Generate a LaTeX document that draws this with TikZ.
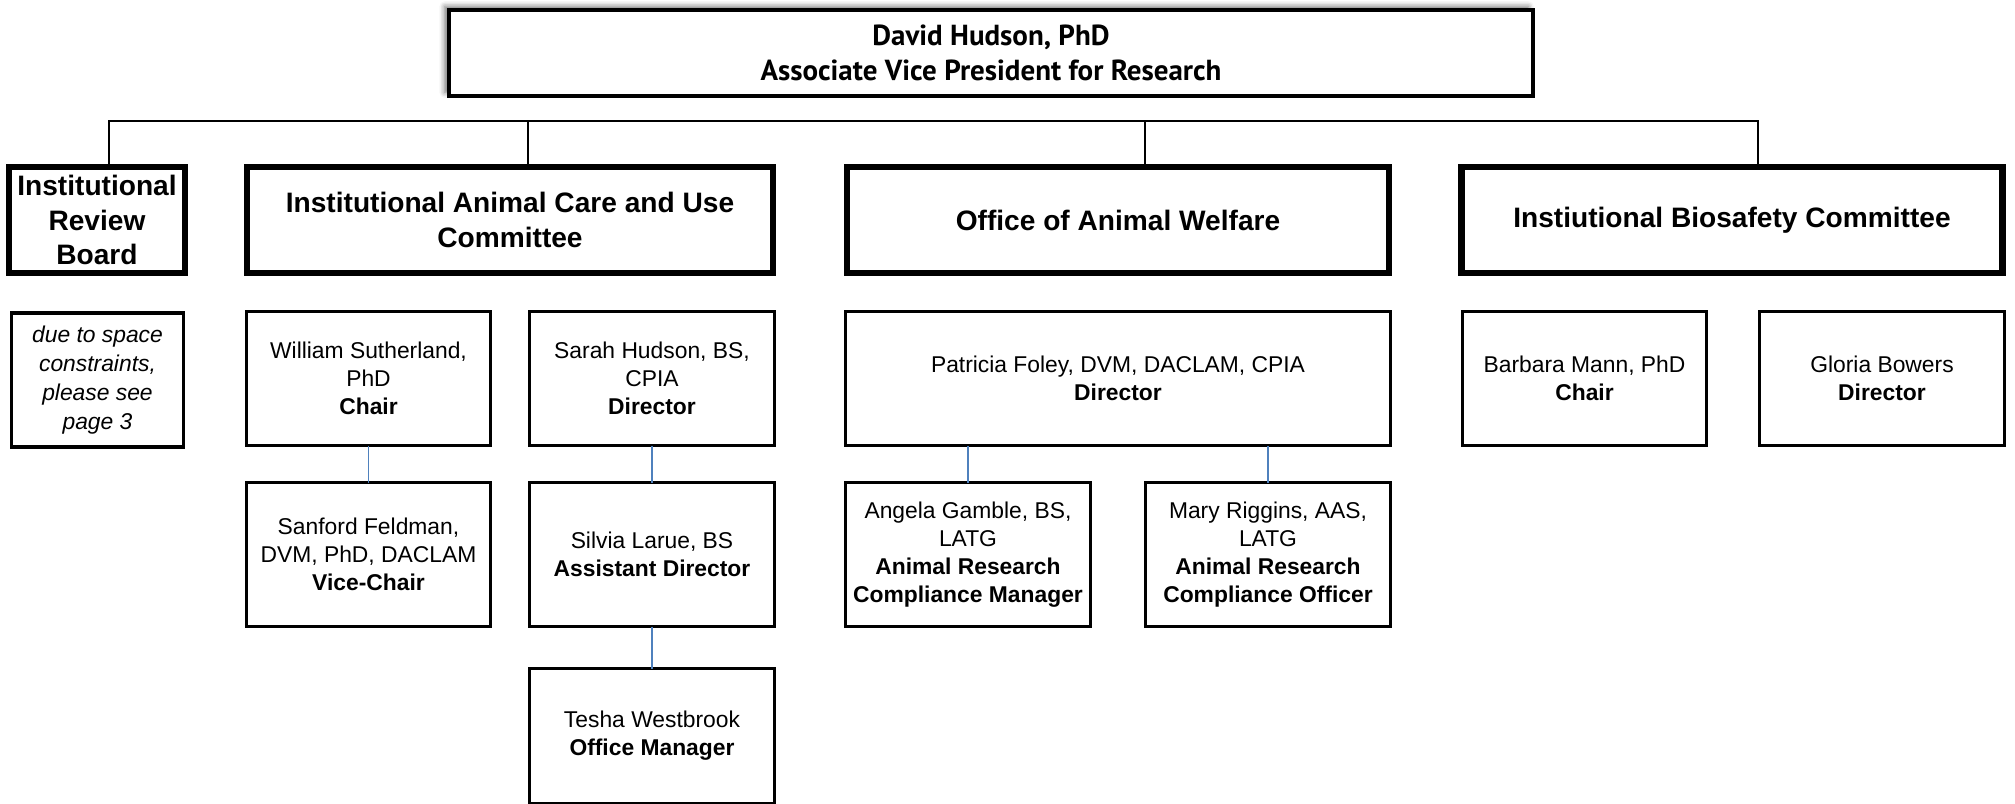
\documentclass[tikz,border=0pt]{standalone}
\usepackage{fontspec}
\setmainfont{Liberation Sans}
\newfontfamily\titlefont{PT Sans}
\usepackage{tikz}
\usetikzlibrary{positioning,calc,shadows.blur}
\definecolor{linkblue}{HTML}{4F81BD}

\tikzset{
	sz/.style 2 args={minimum width=#1*0.02cm, minimum height=#2*0.02cm},
	topbox/.style={draw, fill=white, line width=2.3pt, align=center, inner sep=0pt, outer sep=0pt,
		font=\titlefont\bfseries\fontsize{16.5}{19.7}\selectfont,
		blur shadow={shadow xshift=-2.5pt, shadow yshift=2pt, shadow blur radius=3pt, shadow opacity=55}},
	headbox/.style={draw, line width=3.6pt, align=center, inner sep=0pt, outer sep=0pt,
		font=\bfseries\fontsize{16}{19.6}\selectfont},
	staffbox/.style={draw, line width=1.8pt, align=center, inner sep=0pt, outer sep=0pt,
		font=\fontsize{13}{16}\selectfont},
	bus/.style={line width=1.5pt},
	link/.style={line width=0.85pt, draw=linkblue},
}

\begin{document}
\begin{tikzpicture}[x=0.02cm,y=-0.02cm]
		\useasboundingbox (0,0) rectangle (2015,804);
		% top
		\node (avp) at (991,53) [topbox,sz={1084}{86}] {David Hudson, PhD\\Associate Vice President for Research};
		% committees
		\node (irb) at (97,220) [headbox,sz={176}{106}] {Institutional\\Review\\Board};
		\node (iacuc) at (510,220) [headbox,sz={526}{106}] {Institutional Animal Care and Use\\Committee};
		\node (oaw) at (1118,220) [headbox,sz={542}{106}] {Office of Animal Welfare};
		\node (ibc) at (1732,220) [headbox,sz={541}{106}] {Instiutional Biosafety Committee};
		% bus
		\coordinate (d1) at (109,121);
		\coordinate (d2) at (528,121);
		\coordinate (d3) at (1145,121);
		\coordinate (d4) at (1758,121);
		\draw[bus] (d1 |- irb.north) -- (d1) -- (d4) -- (d4 |- ibc.north);
		\draw[bus] (d2) -- (d2 |- iacuc.north);
		\draw[bus] (d3) -- (d3 |- oaw.north);
		% people
		\node (note) at (97.5,380) [staffbox,sz={172}{134},font=\itshape\fontsize{13}{16.5}\selectfont] {due to space\\constraints,\\please see\\page 3};
		\node (chair) at (368.5,378.5) [staffbox,sz={244}{134}] {William Sutherland,\\PhD\\\textbf{Chair}};
		\node (dir) at (652,378.5) [staffbox,sz={245}{134}] {Sarah Hudson, BS,\\CPIA\\\textbf{Director}};
		\node (oawdir) at (1118,378.5) [staffbox,sz={545}{134}] {Patricia Foley, DVM, DACLAM, CPIA\\\textbf{Director}};
		\node (ibcchair) at (1584.5,378.5) [staffbox,sz={244}{134}] {Barbara Mann, PhD\\\textbf{Chair}};
		\node (ibcdir) at (1882,378.5) [staffbox,sz={245}{134}] {Gloria Bowers\\\textbf{Director}};
		\node (vice) at (368.5,554.5) [staffbox,sz={244}{144}] {Sanford Feldman,\\DVM, PhD, DACLAM\\\textbf{Vice-Chair}};
		\node (asst) at (652,554.5) [staffbox,sz={245}{144}] {Silvia Larue, BS\\\textbf{Assistant Director}};
		\node (mgr) at (968,554.5) [staffbox,sz={245}{144}] {Angela Gamble, BS,\\LATG\\\textbf{Animal Research}\\\textbf{Compliance Manager}};
		\node (off) at (1268,554.5) [staffbox,sz={245}{144}] {Mary Riggins, AAS,\\LATG\\\textbf{Animal Research}\\\textbf{Compliance Officer}};
		\node (om) at (652,736) [staffbox,sz={245}{135}] {Tesha Westbrook\\\textbf{Office Manager}};
		% links
		\draw[link] (chair) -- (vice);
		\draw[link] (dir) -- (asst);
		\draw[link] (asst) -- (om);
		\draw[link] (mgr.north) -- (mgr.north |- oawdir.south);
		\draw[link] (off.north) -- (off.north |- oawdir.south);
	\end{tikzpicture}
\end{document}
